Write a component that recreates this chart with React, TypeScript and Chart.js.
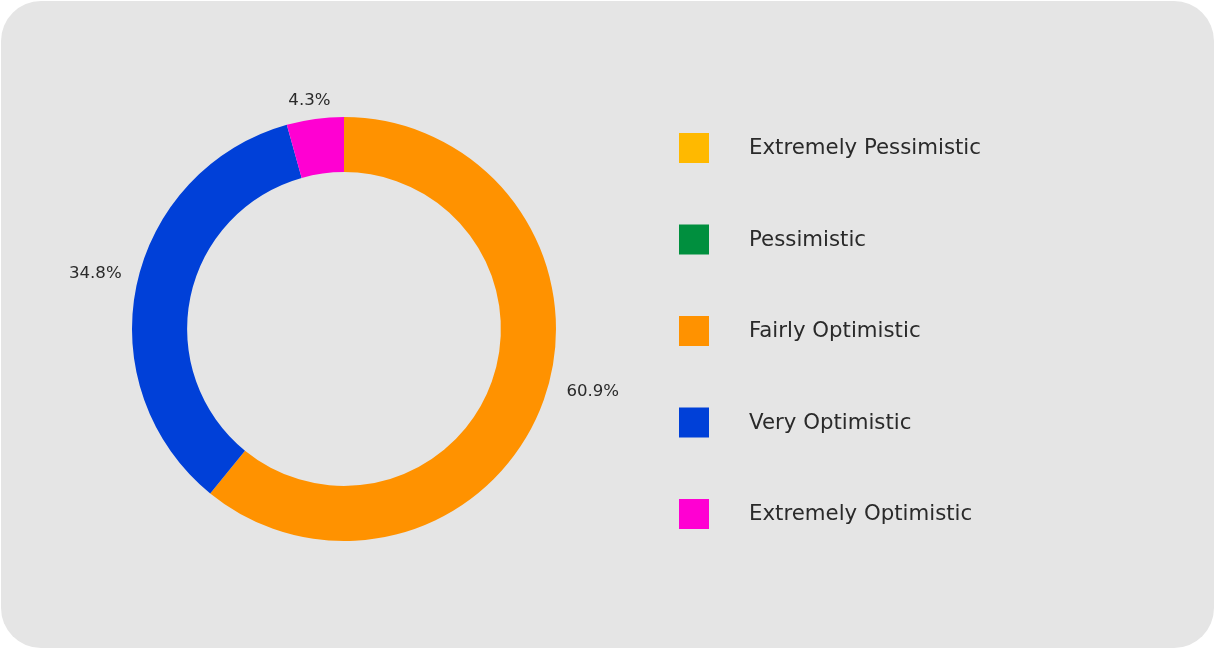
import React, { useEffect, useRef } from "react";
import { Chart, registerables } from "chart.js";

Chart.register(...registerables);

const categories = [
  "Extremely Pessimistic",
  "Pessimistic",
  "Fairly Optimistic",
  "Very Optimistic",
  "Extremely Optimistic",
];
const counts = [0, 0, 14, 8, 1];
const colors = ["#FFB900", "#008F3E", "#FF9200", "#0040D8", "#FF00D2"];

const TEXT_COLOR = "#2a2a2a";
const FONT = "'DejaVu Sans', Verdana, sans-serif";

const outsideLabels = {
  id: "outsideLabels",
  afterDatasetsDraw(chart: any) {
    const ctx = chart.ctx;
    const meta = chart.getDatasetMeta(0);
    const data = chart.data.datasets[0].data as number[];
    const total = data.reduce((a, b) => a + b, 0);
    ctx.save();
    ctx.font = `16.6px ${FONT}`;
    ctx.fillStyle = TEXT_COLOR;
    ctx.textAlign = "center";
    ctx.textBaseline = "middle";
    meta.data.forEach((arc: any, i: number) => {
      const v = data[i];
      if (!v) return;
      const { x, y, startAngle, endAngle, outerRadius } = arc.getProps(
        ["x", "y", "startAngle", "endAngle", "outerRadius"],
        true
      );
      const mid = (startAngle + endAngle) / 2;
      const dx = Math.cos(mid);
      const dy = Math.sin(mid);
      const push = dx > 0 ? 52 : 42;
      const tx = x + dx * (outerRadius + push);
      const ty = y + dy * (outerRadius + 8) - 10.5;
      const txt = ((v / total) * 100).toFixed(1) + "%";
      ctx.fillText(txt, tx, ty);
    });
    ctx.restore();
  },
};

const sideLegend = {
  id: "sideLegend",
  afterDraw(chart: any) {
    const ctx = chart.ctx;
    const labels = chart.data.labels as string[];
    const bg = chart.data.datasets[0].backgroundColor as string[];
    const boxX = 679;
    const textX = 749;
    const firstY = 148;
    const step = 91.5;
    const box = 30;
    ctx.save();
    ctx.font = `21.3px ${FONT}`;
    ctx.textAlign = "left";
    ctx.textBaseline = "middle";
    labels.forEach((lab, i) => {
      const cy = firstY + i * step;
      ctx.fillStyle = bg[i];
      ctx.fillRect(boxX, cy - box / 2, box, box);
      ctx.fillStyle = TEXT_COLOR;
      ctx.fillText(lab, textX, cy + 0.5);
    });
    ctx.restore();
  },
};

export default function App() {
  const ref = useRef<HTMLCanvasElement>(null);
  useEffect(() => {
    document.body.style.margin = "0";
    const chart = new Chart(ref.current!, {
      type: "doughnut",
      data: {
        labels: categories,
        datasets: [
          {
            data: counts,
            backgroundColor: colors,
            borderWidth: 0,
          },
        ],
      },
      options: {
        responsive: false,
        animation: false,
        cutout: "74%",
        layout: { padding: { left: 132, right: 659, top: 117, bottom: 108 } },
        plugins: {
          legend: { display: false },
          tooltip: { enabled: false },
        },
      },
      plugins: [outsideLabels, sideLegend],
    });
    return () => chart.destroy();
  }, []);
  return (
    <div
      style={{
        position: "fixed",
        left: 0,
        top: 0,
        width: 1215,
        height: 649,
        background: "#ffffff",
      }}
    >
      <div
        style={{
          position: "absolute",
          left: 1,
          top: 1,
          width: 1213,
          height: 647,
          borderRadius: 40,
          background: "#e5e5e5",
        }}
      />
      <canvas
        ref={ref}
        width={1215}
        height={649}
        style={{ position: "absolute", left: 0, top: 0, width: 1215, height: 649 }}
      />
    </div>
  );
}
